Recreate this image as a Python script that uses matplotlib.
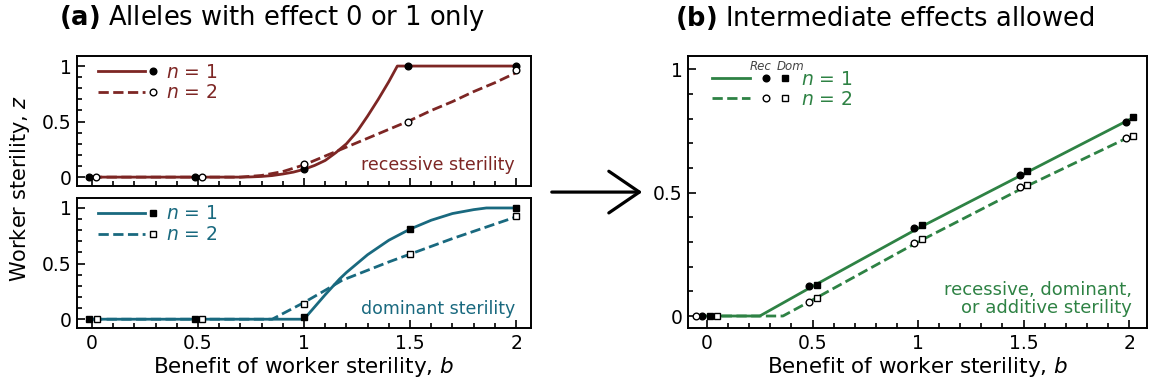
import matplotlib
matplotlib.use("Agg")
import matplotlib.pyplot as plt
from matplotlib.lines import Line2D
from matplotlib.legend_handler import HandlerBase
from matplotlib.patches import FancyArrowPatch
from matplotlib.ticker import MultipleLocator, FuncFormatter

plt.rcParams["font.family"] = ["DejaVu Sans"]
plt.rcParams["mathtext.fontset"] = "dejavusans"

RED = "#7d2624"
TEAL = "#19697f"
GREEN = "#2e8244"

# (a) recessive sterility curves
rec1_b = [0, 0.70, 0.75, 0.80, 0.85, 0.90, 0.95, 1.00, 1.05, 1.10, 1.15, 1.20, 1.25, 1.30, 1.35, 1.40, 1.44, 2.0]
rec1_z = [0, 0, 0.002, 0.006, 0.014, 0.028, 0.045, 0.07, 0.105, 0.15, 0.22, 0.30, 0.41, 0.55, 0.70, 0.86, 1.0, 1.0]
rec2_b = [0, 0.70, 0.80, 0.90, 1.00, 1.10, 1.20, 1.30, 1.40, 1.50, 1.60, 1.70, 1.80, 1.90, 2.00]
rec2_z = [0, 0, 0.015, 0.05, 0.11, 0.19, 0.27, 0.35, 0.43, 0.51, 0.60, 0.68, 0.77, 0.85, 0.94]
# (a) recessive sterility simulation points
rec1_pb = [-0.014, 0.485, 1.0, 1.49, 2.0]
rec1_pz = [0, 0, 0.07, 1.0, 1.0]
rec2_pb = [0.02, 0.518, 1.0, 1.49, 2.0]
rec2_pz = [0, 0, 0.117, 0.50, 0.96]

# (a) dominant sterility curves
dom1_b = [0, 1.00, 1.05, 1.10, 1.167, 1.20, 1.30, 1.40, 1.50, 1.60, 1.70, 1.80, 1.86, 2.0]
dom1_z = [0, 0, 0.11, 0.22, 0.36, 0.42, 0.58, 0.71, 0.81, 0.89, 0.95, 0.985, 1.0, 1.0]
dom2_b = [0, 0.85, 0.90, 1.00, 1.10, 1.18, 1.30, 1.40, 1.50, 1.60, 1.70, 1.80, 1.90, 2.00]
dom2_z = [0, 0, 0.05, 0.15, 0.26, 0.35, 0.44, 0.515, 0.585, 0.655, 0.725, 0.79, 0.855, 0.92]
# (a) dominant sterility simulation points
dom1_pb = [-0.013, 0.485, 1.0, 1.5, 2.0]
dom1_pz = [0, 0, 0.02, 0.81, 1.0]
dom2_pb = [0.022, 0.518, 1.0, 1.5, 2.0]
dom2_pz = [0, 0, 0.135, 0.59, 0.93]

# (b) intermediate effects
int1_b = [0, 0.25, 0.5, 1.0, 1.5, 2.0]
int1_z = [0, 0, 0.12, 0.355, 0.575, 0.795]
int2_b = [0, 0.36, 0.5, 1.0, 1.5, 2.0]
int2_z = [0, 0, 0.065, 0.30, 0.52, 0.725]
rc1_pb = [-0.022, 0.483, 0.981, 1.483, 1.986]
rc1_pz = [0, 0.12, 0.355, 0.571, 0.784]
dm1_pb = [0.013, 0.52, 1.017, 1.518, 2.017]
dm1_pz = [0, 0.127, 0.368, 0.588, 0.806]
rc2_pb = [-0.053, 0.483, 0.981, 1.483, 1.986]
rc2_pz = [0, 0.055, 0.294, 0.522, 0.723]
dm2_pb = [0.049, 0.52, 1.017, 1.518, 2.017]
dm2_pz = [0, 0.072, 0.31, 0.529, 0.73]

b_ticks = [0, 0.5, 1, 1.5, 2]
z_ticks = [0, 0.5, 1]


class KeyHandler(HandlerBase):
    def __init__(self, line_frac, mark_pos):
        super().__init__()
        self.line_frac = line_frac
        self.mark_pos = mark_pos

    def create_artists(self, legend, orig_handle, xdescent, ydescent,
                       width, height, fontsize, trans):
        line, marks = orig_handle[0], orig_handle[1:]
        y = height / 2 - ydescent
        x0 = -xdescent
        ln = Line2D([x0, x0 + self.line_frac * width], [y, y])
        ln.update_from(line)
        ln.set_marker("None")
        ln.set_transform(trans)
        out = [ln]
        for pos, m in zip(self.mark_pos, marks):
            mk = Line2D([x0 + pos * width], [y])
            mk.update_from(m)
            mk.set_linestyle("None")
            mk.set_transform(trans)
            out.append(mk)
        return out


fmt = FuncFormatter(lambda v, p: "%g" % v)


def style_axes(ax, ylim):
    ax.set_xlim(-0.07, 2.07)
    ax.set_ylim(*ylim)
    ax.set_xticks(b_ticks)
    ax.set_yticks(z_ticks)
    ax.xaxis.set_minor_locator(MultipleLocator(0.1))
    ax.yaxis.set_minor_locator(MultipleLocator(0.1))
    ax.xaxis.set_major_formatter(fmt)
    ax.yaxis.set_major_formatter(fmt)
    ax.tick_params(which="both", direction="in", top=False, right=False, labelsize=13.5, width=1.2)
    ax.tick_params(which="major", length=6, pad=4)
    ax.tick_params(which="minor", length=3.5)
    for s in ax.spines.values():
        s.set_linewidth(1.4)


def marker_kw(filled, shape):
    return dict(linestyle="None", marker=shape, markersize=4.8 if shape == "o" else 4.5,
                markerfacecolor="black" if filled else "white",
                markeredgecolor="black", markeredgewidth=1.0, zorder=5)


def add_legend(ax, handles, color, handler, anchor, hlen, spacing):
    leg = ax.legend(handles, ["$n$ = 1", "$n$ = 2"], handler_map={tuple: handler},
                    loc="upper left", bbox_to_anchor=anchor, frameon=False,
                    fontsize=13.5, handlelength=hlen, handletextpad=0.45,
                    borderpad=0, borderaxespad=0, labelspacing=spacing)
    for t in leg.get_texts():
        t.set_color(color)


fig = plt.figure(figsize=(11.53, 3.92), dpi=100)
ax1 = fig.add_axes([0.0668, 0.5255, 0.3937, 0.3315])
ax2 = fig.add_axes([0.0668, 0.163, 0.3937, 0.332])
ax3 = fig.add_axes([0.5967, 0.163, 0.3981, 0.694])

# recessive
l1, = ax1.plot(rec1_b, rec1_z, color=RED, lw=2.0)
l2, = ax1.plot(rec2_b, rec2_z, color=RED, lw=2.0, linestyle="--")
m1, = ax1.plot(rec1_pb, rec1_pz, **marker_kw(True, "o"))
m2, = ax1.plot(rec2_pb, rec2_pz, **marker_kw(False, "o"))
style_axes(ax1, (-0.08, 1.09))
ax1.tick_params(labelbottom=False)
add_legend(ax1, [(l1, m1), (l2, m2)], RED, KeyHandler(0.78, [0.92]), (0.046, 0.95), 3.2, 0.1)
ax1.text(0.965, 0.16, "recessive sterility", color=RED, fontsize=12.5,
         ha="right", va="center", transform=ax1.transAxes)

# dominant
l1, = ax2.plot(dom1_b, dom1_z, color=TEAL, lw=2.0)
l2, = ax2.plot(dom2_b, dom2_z, color=TEAL, lw=2.0, linestyle="--")
m1, = ax2.plot(dom1_pb, dom1_pz, **marker_kw(True, "s"))
m2, = ax2.plot(dom2_pb, dom2_pz, **marker_kw(False, "s"))
style_axes(ax2, (-0.08, 1.09))
add_legend(ax2, [(l1, m1), (l2, m2)], TEAL, KeyHandler(0.78, [0.92]), (0.046, 0.95), 3.2, 0.1)
ax2.text(0.965, 0.146, "dominant sterility", color=TEAL, fontsize=12.5,
         ha="right", va="center", transform=ax2.transAxes)
ax2.set_xlabel("Benefit of worker sterility, $b$", fontsize=15.5, labelpad=2)

# intermediate
l1, = ax3.plot(int1_b, int1_z, color=GREEN, lw=2.0)
l2, = ax3.plot(int2_b, int2_z, color=GREEN, lw=2.0, linestyle="--")
c1, = ax3.plot(rc1_pb, rc1_pz, **marker_kw(True, "o"))
s1, = ax3.plot(dm1_pb, dm1_pz, **marker_kw(True, "s"))
c2, = ax3.plot(rc2_pb, rc2_pz, **marker_kw(False, "o"))
s2, = ax3.plot(dm2_pb, dm2_pz, **marker_kw(False, "s"))
style_axes(ax3, (-0.049, 1.053))
ax3.set_xlim(-0.09, 2.085)
add_legend(ax3, [(l1, c1, s1), (l2, c2, s2)], GREEN, KeyHandler(0.475, [0.675, 0.91]),
           (0.052, 0.95), 4.3, 0.05)
ax3.text(0.158, 0.963, "Rec", fontsize=8.5, style="italic", color="#444444",
         ha="center", va="center", transform=ax3.transAxes)
ax3.text(0.224, 0.963, "Dom", fontsize=8.5, style="italic", color="#444444",
         ha="center", va="center", transform=ax3.transAxes)
ax3.text(0.967, 0.107, "recessive, dominant,\nor additive sterility", color=GREEN,
         fontsize=13, ha="right", va="center", linespacing=1.05, transform=ax3.transAxes)
ax3.set_xlabel("Benefit of worker sterility, $b$", fontsize=15.5, labelpad=2)

fig.text(0.017, 0.52, "Worker sterility, $z$", rotation=90, fontsize=15,
         ha="center", va="center")
fig.text(0.236, 0.954, r"$\bf{(a)}$ Alleles with effect 0 or 1 only", fontsize=18.5,
         ha="center", va="center")
fig.text(0.767, 0.954, r"$\bf{(b)}$ Intermediate effects allowed", fontsize=18.5,
         ha="center", va="center")

arrow = FancyArrowPatch((549 / 1153, 0.51), (645 / 1153, 0.51),
                        transform=fig.transFigure, arrowstyle="->,head_length=2.2,head_width=1.5",
                        linewidth=2.3, color="black", mutation_scale=10)
fig.add_artist(arrow)

fig.savefig("out.png", dpi=100)
